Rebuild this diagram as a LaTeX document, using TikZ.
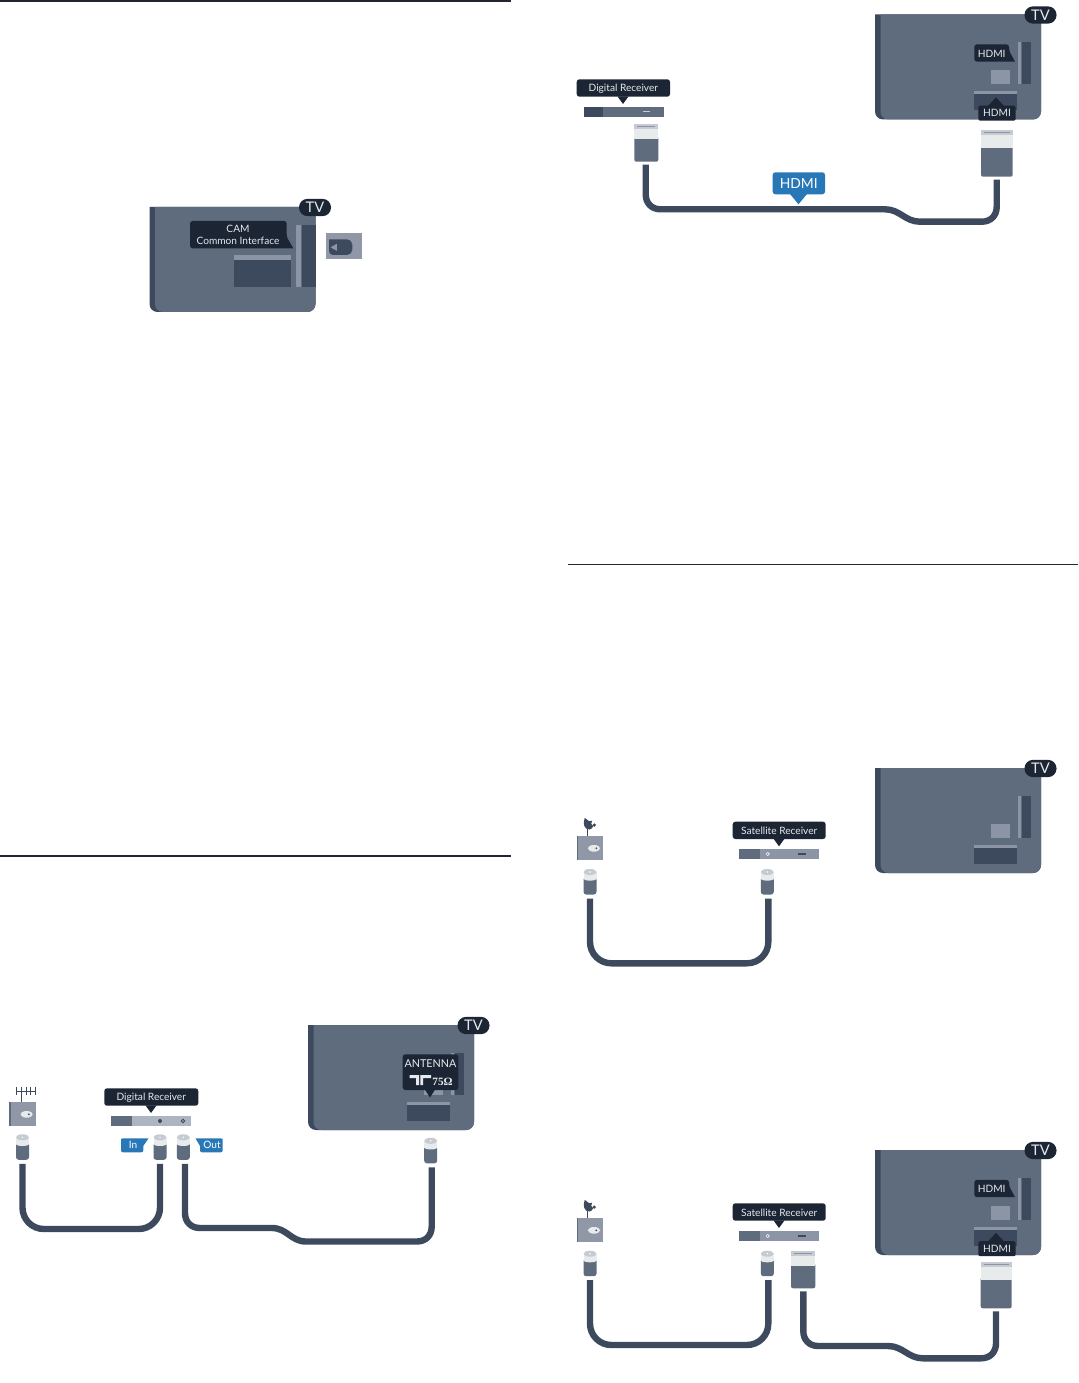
\documentclass[tikz,border=0pt]{standalone}
\usepackage{fontspec}
\usetikzlibrary{calc}
\setmainfont{Lato}
\newfontfamily\ohmfont{Liberation Serif}
\definecolor{tvbody}{HTML}{5F6C7E}
\definecolor{tvdark}{HTML}{3D4A5E}
\definecolor{tvlight}{HTML}{8C95A5}
\definecolor{boxgrey}{HTML}{9098A8}
\definecolor{capgrey}{HTML}{C6CAD2}
\definecolor{capwhite}{HTML}{E8EBEC}
\definecolor{badge}{HTML}{1C2534}
\definecolor{tagblue}{HTML}{2878B8}
\definecolor{lbl}{HTML}{E6E9EE}
\definecolor{rule}{HTML}{22262F}
\tikzset{
  cable/.style={draw=tvdark,line width=4.8pt},
  lab/.style={inner sep=0pt,text=lbl,font=\fontsize{7.6pt}{9pt}\selectfont},
  labw/.style={inner sep=0pt,text=white,font=\fontsize{7.6pt}{9pt}\selectfont},
  tvtag/.style={fill=badge,rounded corners=6.3pt,minimum width=24pt,minimum height=12.9pt,inner sep=0pt,text=lbl,font=\fontsize{11pt}{12pt}\selectfont},
  rulethick/.style={draw=rule,line width=1.5pt},
  rulethin/.style={draw=rule,line width=0.9pt},
}
% TV without ports
\newcommand{\tvshell}[3]{%
  \begin{scope}[shift={(#2,#3)}]
  \fill[tvdark] (0,0) [rounded corners=6] -- (0,105) -- (166,105) [sharp corners] -- (166,0) -- cycle;
  \fill[tvbody] (5.5,0) [rounded corners=6] -- (5.5,105) -- (166,105) [sharp corners] -- (166,0) -- cycle;
  \node[tvtag] (#1) at (165.5,0.5) {TV};
  \end{scope}}
% standard ports of a TV
\newcommand{\tvports}[2]{%
  \begin{scope}[shift={(#1,#2)}]
  \fill[tvlight] (142.7,28) rectangle (146,70);
  \fill[tvdark] (147,28) rectangle (156.3,70);
  \fill[tvlight] (115.7,55.7) rectangle (135,70);
  \fill[tvlight] (99.3,76.7) rectangle (142.3,79.7);
  \fill[tvdark] (99.3,79.7) rectangle (142.3,95.7);
  \end{scope}}
% HDMI labels of a TV
\newcommand{\tvhdmi}[3]{%
  \begin{scope}[shift={(#2,#3)}]
  \fill[badge] (99.3,29.8) [rounded corners=2] -- (99.3,47.2) [sharp corners] -- (140,47.2) [rounded corners=2] -- (134,36) -- (134,29.8) -- cycle;
  \node[lab] (#1a) at (116.7,39.3) {HDMI};
  \fill[badge] (113,91.5) -- (121,82.8) -- (129,91.5) -- cycle;
  \fill[badge,rounded corners=1.5] (103.3,91.2) rectangle (140.7,106.2);
  \node[lab] (#1b) at (122,98.7) {HDMI};
  \end{scope}}
% coax plug: name, centre x, top y
\newcommand{\coax}[3]{%
  \begin{scope}[shift={(#2,#3)}]
  \fill[tvbody,rounded corners=2] (-6.5,8) rectangle (6.5,25.5);
  \fill[capwhite] (-6.5,3) rectangle (6.5,10);
  \fill[capwhite] (0,10) ellipse [x radius=6.5,y radius=1.6];
  \fill[capgrey] (0,3) ellipse [x radius=6.5,y radius=3];
  \fill[white] (0,3) circle [radius=0.8];
  \coordinate (#1) at (0,29.5);
  \end{scope}}
% HDMI plug: name, x1, x2, y1 (top), y2 (end of cap), y3 (end of white), y4 (bottom), cable x
\newcommand{\hplug}[8]{%
  \fill[tvbody,rounded corners=1.5] (#2,#6-3) rectangle (#3,#7);
  \fill[capwhite] (#2,#5) rectangle (#3,#6);
  \fill[capgrey] (#2,#4) rectangle (#3,#5);
  \draw[tvlight,line width=0.9pt] (#2+3,{(#4+#5)/2}) -- (#3-3,{(#4+#5)/2});
  \coordinate (#1) at (#8,#7+3);}
% cable with an S bend: start, end, first level, bend x1, bend x2, second level
\newcommand{\scable}[6]{%
  \draw[cable] (#1) -- ($(#1 |- 0,#3)+(0,-15)$)
    .. controls ($(#1 |- 0,#3)+(0,-6)$) and ($(#1 |- 0,#3)+(6,0)$) .. ($(#1 |- 0,#3)+(15,0)$)
    -- (#4,#3) .. controls (#4+15,#3) and (#5-15,#6) .. (#5,#6)
    -- ($(#2 |- 0,#6)+(-15,0)$)
    .. controls ($(#2 |- 0,#6)+(-6,0)$) and ($(#2 |- 0,#6)+(0,-6)$) .. ($(#2 |- 0,#6)+(0,-15)$)
    -- (#2);}
% wall socket
\newcommand{\wallbox}[2]{%
  \begin{scope}[shift={(#1,#2)}]
  \fill[boxgrey] (0,0) rectangle (26.7,24);
  \fill[tvbody] (0,0) rectangle (1.5,24);
  \fill[capwhite,rounded corners=3.1] (11.2,9.4) rectangle (23.4,15.8);
  \fill[tvdark] (19.6,12.6) circle [radius=1];
  \end{scope}}
% satellite dish over the wall socket
\newcommand{\dishbox}[2]{%
  \wallbox{#1}{#2}
  \begin{scope}[shift={(#1,#2)}]
  \draw[tvdark,line width=1pt] (10.8,0) -- (10.8,-8);
  \fill[tvdark] (8,-17.8) .. controls (5.8,-12) and (7.5,-6) .. (12.8,-6.2) .. controls (14.5,-6.5) and (16,-7.8) .. (16.5,-9.5) -- (14.5,-12) -- (15.5,-15) -- (12.5,-14.5) -- cycle;
  \fill[tvdark] (17.6,-10.6) circle [radius=1.8];
  \end{scope}}
% receiver callout: box x1,y1 to x2,y2 and tip
\newcommand{\downcall}[7]{%
  \fill[badge,rounded corners=2] (#2,#3) rectangle (#4,#5);
  \fill[badge] (#6-5.5,#5-0.3) -- (#6,#5+7.3) -- (#6+5.5,#5-0.3) -- cycle;
  \node[lab] (#1) at ({(#2+#4)/2},{(#3+#5)/2+0.8}) {#7};}
\begin{document}
\begin{tikzpicture}[x=0.75pt,y=-0.75pt]
\useasboundingbox (0,0) rectangle (1078,1383);
\fill[white] (0,0) rectangle (1078,1383);
% section rules
\coordinate (r1a) at (0,0.6); \coordinate (r1b) at (511,0.6);
\coordinate (r2a) at (0,855.6); \coordinate (r2b) at (511,855.6);
\coordinate (r3a) at (568,564.4); \coordinate (r3b) at (1078,564.4);
\draw[rulethick] (r1a) -- (r1b);
\draw[rulethick] (r2a) -- (r2b);
\draw[rulethin] (r3a) -- (r3b);

% ---------- CAM ----------
\tvshell{tvA}{149.5}{207}
\begin{scope}[shift={(149.5,207)}]
  \fill[tvlight] (146,18) rectangle (151,80);
  \fill[tvdark] (152,18) rectangle (166,80);
  \fill[tvlight] (84.7,47.7) rectangle (141.7,53);
  \fill[tvdark] (84.7,53) rectangle (141.7,80);
  \fill[badge] (40.5,14) [rounded corners=2] -- (40.5,41.3) [sharp corners] -- (143.8,41.3) [rounded corners=2] -- (137.2,30) -- (137.2,14) -- cycle;
  \node[lab] (camA) at (88.5,21.5) {CAM};
  \node[lab] (camB) at (88.5,33.5) {Common Interface};
\end{scope}
\fill[boxgrey] (326,233.3) rectangle (362.3,259.3);
\fill[tvdark] (329,239.3) [rounded corners=3] -- (329,255) [rounded corners=4] -- (352.3,255) -- (352.3,239.3) [sharp corners] -- cycle;
\fill[tvlight] (330.5,247.3) -- (336.8,243.8) -- (336.8,250.8) -- cycle;

% ---------- Antenna + digital receiver ----------
\wallbox{9.3}{1101.7}
\draw[tvdark,line width=0.7pt] (21.3,1101.7) -- (21.3,1086.5)
  (15.7,1091) -- (35.7,1091)
  (16.4,1086.7) -- (16.4,1095) (21.3,1086.7) -- (21.3,1095)
  (26,1086.7) -- (26,1095) (30.6,1086.7) -- (30.6,1095) (35,1086.7) -- (35,1095);
\downcall{drA}{104.3}{1088.3}{198.3}{1105.7}{151}{Digital Receiver}
\fill[tvlight!70!white] (111,1116) rectangle (191,1125.7);
\fill[tvbody] (111,1116) rectangle (132,1125.7);
\fill[tvdark] (160,1121) circle [radius=2];
\draw[tvdark,line width=0.7pt] (183,1121) circle [radius=1.7];
\coax{cA}{22.5}{1134.3}
\coax{cB}{160}{1134.3}
\coax{cC}{183.3}{1134.3}
\fill[tagblue] (121,1140) [rounded corners=1.5] -- (121,1152.3) -- (143.3,1152.3) [sharp corners] -- (143.3,1146) -- (148.5,1138.3) [rounded corners=1.5] -- (121,1138.3) -- cycle;
\node[labw] (inTag) at (133,1145.2) {In};
\fill[tagblue] (222.7,1140) [rounded corners=1.5] -- (222.7,1152.3) -- (200,1152.3) [sharp corners] -- (200,1146) -- (195.5,1138.3) [rounded corners=1.5] -- (222.7,1138.3) -- cycle;
\node[labw] (outTag) at (212,1145.2) {Out};
\tvshell{tvB}{308}{1025}
\tvports{308}{1025}
\fill[badge,rounded corners=2] (402.7,1054.3) rectangle (458.3,1090);
\fill[badge] (425,1089.7) -- (430,1097.5) -- (435,1089.7) -- cycle;
\node[inner sep=0pt,text=lbl,font=\fontsize{8.1pt}{10pt}\selectfont] (antTxt) at (430.5,1064) {ANTENNA};
\fill[lbl] (409.5,1075) -- (419,1075) -- (419,1085) -- (416.2,1085) -- (416.2,1078) -- (409.5,1078) -- cycle;
\fill[lbl] (431,1075) -- (420.3,1075) -- (420.3,1085) -- (423.1,1085) -- (423.1,1078) -- (431,1078) -- cycle;
\node[inner sep=0pt,text=lbl,font=\fontsize{8.4pt}{10pt}\ohmfont\bfseries\selectfont] (ohm) at (442.5,1081.5) {75Ω};
\coax{cD}{430.7}{1137.8}
\coordinate (cCc) at ($(cC)+(1.7,0)$);
\coordinate (cDc) at ($(cD)+(1,0)$);
\draw[cable,rounded corners=16] (cA) -- (cA |- 0,1229) -- (cB |- 0,1229) -- (cB);
\scable{cCc}{cDc}{1228}{272}{306}{1241.5}

% ---------- Digital receiver + HDMI ----------
\tvshell{tvC}{875}{14.5}
\tvports{875}{14.5}
\tvhdmi{hdC}{875}{14.5}
\downcall{drB}{576.7}{79.3}{670}{96.7}{623}{Digital Receiver}
\fill[tvbody] (584,106.7) rectangle (664,116.7);
\fill[tvdark] (584,106.7) rectangle (603.3,116.7);
\fill[capgrey] (642.7,111) rectangle (650,112.4);
\hplug{pA}{634.3}{658.3}{124.3}{129.3}{139.3}{161.7}{645.7}
\hplug{pB}{981}{1012.7}{130}{135}{148.3}{176.7}{996.7}
\scable{pA}{pB}{209.3}{885}{920}{221.7}
\fill[tagblue,rounded corners=2] (772.7,172.3) rectangle (825,194.3);
\fill[tagblue] (790,194) -- (798.5,204.3) -- (807,194) -- cycle;
\node[inner sep=0pt,text=white,font=\fontsize{10.4pt}{12pt}\selectfont] (hdmiTag) at (798.7,183.5) {HDMI};

% ---------- Satellite, coax ----------
\tvshell{tvD}{875}{768}
\tvports{875}{768}
\dishbox{576.7}{835.7}
\downcall{srA}{732.7}{821.7}{825.7}{839}{779}{Satellite Receiver}
\fill[tvlight] (739.3,849) rectangle (819.3,859);
\fill[tvbody] (739.3,849) rectangle (760,859);
\draw[capwhite,line width=0.7pt,fill=tvdark] (767.7,854) circle [radius=1.5];
\fill[tvdark] (798.3,853.2) rectangle (805.7,854.8);
\coax{cE}{590}{869}
\coax{cF}{767.3}{869}
\draw[cable,rounded corners=16] (cE) -- (cE |- 0,963.3) -- ($(cF |- 0,963.3)+(1,0)$) -- ($(cF)+(1,0)$);

% ---------- Satellite, HDMI ----------
\tvshell{tvE}{875}{1150}
\tvports{875}{1150}
\tvhdmi{hdE}{875}{1150}
\dishbox{576.7}{1217.7}
\downcall{srB}{732.7}{1203.3}{825.7}{1220.7}{779}{Satellite Receiver}
\fill[tvlight] (739.3,1230.7) rectangle (819.3,1241);
\fill[tvbody] (739.3,1230.7) rectangle (760,1241);
\draw[capwhite,line width=0.7pt,fill=tvdark] (767.7,1236) circle [radius=1.5];
\fill[tvdark] (798.3,1235.2) rectangle (805.7,1236.8);
\coax{cG}{590}{1250.7}
\coax{cH}{767.3}{1250.7}
\draw[cable,rounded corners=16] (cG) -- (cG |- 0,1345) -- ($(cH |- 0,1345)+(1,0)$) -- ($(cH)+(1,0)$);
\hplug{pC}{791}{815.3}{1251}{1256}{1266}{1288.3}{803.3}
\hplug{pD}{980.7}{1011.7}{1261.7}{1266.7}{1280}{1308.3}{996}
\scable{pC}{pD}{1346}{888}{923}{1358.3}
\end{tikzpicture}
\end{document}
